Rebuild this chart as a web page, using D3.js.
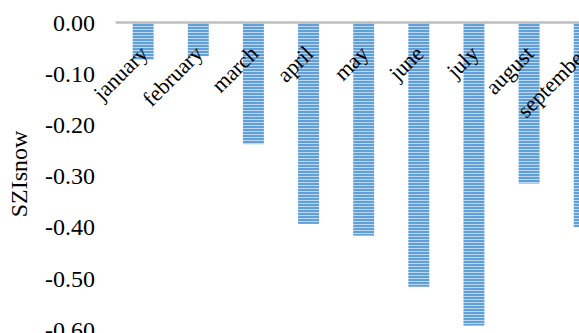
<!DOCTYPE html>
<html>
<head>
<meta charset="utf-8">
<script src="https://cdn.jsdelivr.net/npm/d3@7/dist/d3.min.js"></script>
<style>
  html, body { margin: 0; padding: 0; background: #fff; }
  svg { display: block; }
  svg text { font-family: "Times New Roman", "Liberation Serif", "DejaVu Serif", serif; fill: #000; }
</style>
</head>
<body>
<svg id="chart" width="579" height="333"></svg>
<script>
// Monthly SZIsnow values
const months = ["january", "february", "march", "april", "may", "june", "july", "august", "september"];
const szi = [-0.073, -0.066, -0.238, -0.394, -0.417, -0.517, -0.593, -0.315, -0.400];
const yTicks = [0, -0.1, -0.2, -0.3, -0.4, -0.5, -0.6];

const serif = "'Times New Roman', 'Liberation Serif', 'DejaVu Serif', serif";
const svg = d3.select("#chart");

const x = d3.scaleBand()
  .domain(months)
  .range([115.6, 115.6 + 55.13 * months.length])
  .paddingInner(0.62)
  .paddingOuter(0.31);

const y = d3.scaleLinear().domain([-0.6, 0]).range([329.2, 22.5]);

// horizontal stripe fill for the bars
const defs = svg.append("defs");
const pat = defs.append("pattern")
  .attr("id", "stripes")
  .attr("patternUnits", "userSpaceOnUse")
  .attr("width", 8).attr("height", 3);
pat.append("rect").attr("width", 8).attr("height", 3).attr("fill", "#619fd9");
pat.append("rect").attr("y", 2).attr("width", 8).attr("height", 1).attr("fill", "#bcd7f0");

// bars
svg.append("g").selectAll("rect")
  .data(months)
  .join("rect")
  .attr("x", d => x(d))
  .attr("width", x.bandwidth())
  .attr("y", y(0))
  .attr("height", (d, i) => y(szi[i]) - y(0))
  .attr("fill", "url(#stripes)");

// category axis along the zero line
svg.append("line")
  .attr("x1", x.range()[0]).attr("x2", x.range()[1])
  .attr("y1", y(0)).attr("y2", y(0))
  .attr("stroke", "#bfbfbf").attr("stroke-width", 2.5);

// value axis labels (plain hyphen for the sign)
const yAxis = d3.axisLeft(y)
  .tickValues(yTicks)
  .tickFormat(d => (d === 0 ? 0 : d).toFixed(2))
  .tickSize(0).tickPadding(0);
const gy = svg.append("g").attr("transform", "translate(95,0)").call(yAxis);
gy.attr("font-family", serif).attr("font-size", 24);
gy.select(".domain").remove();
gy.selectAll("text")
  .style("font-family", serif)
  .attr("font-size", 24)
  .attr("fill", "#000")
  .attr("dy", "0.33em");

// rotated month labels
svg.append("g").selectAll("text")
  .data(months)
  .join("text")
  .style("font-family", serif)
  .attr("text-anchor", "end")
  .attr("font-size", 22)
  .attr("transform", d => `translate(${x(d) + x.bandwidth() / 2 + 6},55) rotate(-45)`)
  .text(d => d);

// y axis title
svg.append("text")
  .style("font-family", serif)
  .attr("text-anchor", "middle")
  .attr("font-size", 24)
  .attr("transform", "translate(27,174) rotate(-90)")
  .text("SZIsnow");
</script>
</body>
</html>
